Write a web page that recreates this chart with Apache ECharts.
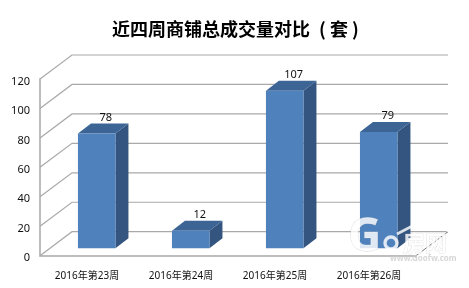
<!DOCTYPE html>
<html><head><meta charset="utf-8">
<style>html,body{margin:0;padding:0;background:#fff}#c{width:469px;height:288px}</style>
<script src="https://cdn.jsdelivr.net/npm/echarts@6/dist/echarts.min.js"></script>
</head><body><div id="c"></div>
<script>
const titleText = '近四周商铺总成交量对比\u2002( 套 )';
const categories = ['2016年第23周','2016年第24周','2016年第25周','2016年第26周'];
const values = [78, 12, 107, 79];
const yTicks = [0, 20, 40, 60, 80, 100, 120];
const wallDx = 32, wallDy = -24;
const barInsetX = 9.7, barInsetY = -7.4, barW = 37.5, depthX = 13, depthY = -10;
const gridCol = '#a9a9a9', axisCol = '#bdbdbd';
const font = '"Noto Sans","Noto Sans CJK SC",sans-serif';
const wmFill = 'rgba(255,255,255,0.82)', wmEdge = 'rgba(195,195,195,0.55)';

const chart = echarts.init(document.getElementById('c'), null, {renderer:'canvas'});
chart.setOption({
  animation:false,
  backgroundColor:'#fff',
  title:{text:titleText,left:112,top:20,padding:0,
    textStyle:{fontFamily:'"Noto Sans CJK SC"',fontSize:18,fontWeight:'bold',color:'#000'}},
  grid:{left:40,right:53,top:79,bottom:32.3,containLabel:false},
  xAxis:{type:'category',data:categories,
    axisLine:{show:true,lineStyle:{color:axisCol,width:2}},axisTick:{show:false},
    axisLabel:{margin:15,fontSize:10,color:'#111',fontFamily:font,interval:0}},
  yAxis:{type:'value',min:0,max:120,interval:20,
    axisLine:{show:true,lineStyle:{color:axisCol,width:2}},axisTick:{show:false},
    splitLine:{show:false},axisLabel:{show:false}},
  series:[
    {type:'custom',silent:true,z:1,clip:false,
      data:yTicks.map(v=>[0,v]),
      renderItem(params,api){
        const cs=params.coordSys, v=api.value(1), y=api.coord([0,v])[1];
        const x0=cs.x, x1=cs.x+cs.width;
        const children=[{type:'polyline',
          shape:{points:[[x0,y],[x0+wallDx,y+wallDy],[x1+wallDx,y+wallDy]]},
          style:{stroke:gridCol,lineWidth:1.2,fill:null}},
          {type:'text',style:{text:String(v),x:x0-10,y:y+2.5,align:'right',verticalAlign:'middle',
            fontSize:11,fontFamily:font,fill:'#111'}}];
        if(v===0) children.push({type:'line',
          shape:{x1:x1,y1:y,x2:x1+wallDx,y2:y+wallDy},style:{stroke:'#777',lineWidth:1}});
        return {type:'group',children};
      }},
    {type:'custom',z:2,clip:false,
      data:values.map((v,i)=>[i,v]),
      renderItem(params,api){
        const top=api.coord([api.value(0),api.value(1)]);
        const base=api.coord([api.value(0),0]);
        const xl=top[0]+barInsetX-barW/2, xr=xl+barW;
        const yt=top[1]+barInsetY, yb=base[1]+barInsetY;
        const poly=(pts,fill)=>({type:'polygon',shape:{points:pts},style:{fill}});
        return {type:'group',children:[
          poly([[xr,yt],[xr+depthX,yt+depthY],[xr+depthX,yb+depthY],[xr,yb]],'#34557f'),
          poly([[xl,yt],[xl+depthX,yt+depthY],[xr+depthX,yt+depthY],[xr,yt]],'#3c6595'),
          poly([[xl,yt],[xr,yt],[xr,yb],[xl,yb]],'#4f81bd'),
          {type:'text',style:{text:String(api.value(1)),x:xl+barW/2+9,y:yt+depthY-6,
            align:'center',verticalAlign:'middle',fontSize:11,fontFamily:font,fill:'#111'}}
        ]};
      }}
  ],
  graphic:[
    {type:'polyline',z:50,silent:true,
      shape:{points:[[397,234],[418,223],[436,213],[440,207],[447,218],[448,232]],smooth:0.25},
      style:{stroke:wmFill,lineWidth:2.6,fill:null}},
    {type:'text',z:50,x:348,y:215,style:{text:'G',fontSize:46,fontFamily:'"Open Sans"',fontWeight:'bold',fill:wmFill,stroke:wmEdge,lineWidth:.8}},
    {type:'circle',z:50,silent:true,shape:{cx:391,cy:243,r:6},style:{stroke:wmFill,lineWidth:3.4,fill:null}},
    {type:'text',z:50,x:403,y:232,style:{text:'房网',fontSize:22,fontWeight:'bold',fontFamily:'"Noto Sans CJK SC"',fill:wmFill,stroke:wmEdge,lineWidth:.6}},
    {type:'text',z:50,x:390,y:255,style:{text:'www.Goofw.com',fontSize:8,fontWeight:'bold',fontFamily:'"Noto Sans"',fill:'rgba(205,205,205,0.8)'}}
  ]
});
</script></body></html>
